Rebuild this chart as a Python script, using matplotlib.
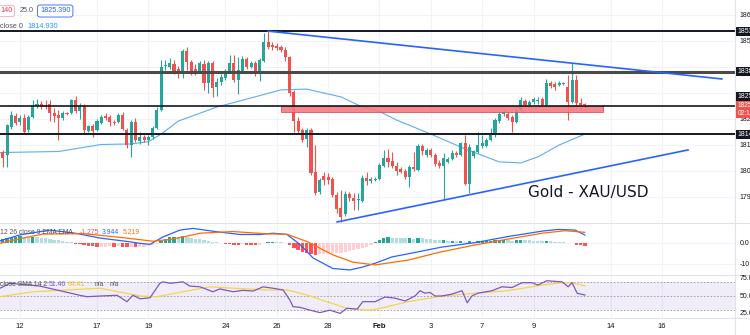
import matplotlib
matplotlib.use("Agg")
import matplotlib.pyplot as plt
import matplotlib.transforms as mtransforms
from matplotlib.patches import Rectangle

plt.rcParams['font.family'] = ['Liberation Sans', 'DejaVu Sans']

# 4h candles, XAU/USD, 11 Jan - 11 Feb 2022
opens = [1807.3, 1806.2, 1816.9, 1821.2, 1818.8, 1820.4, 1815.8, 1820.8, 1825.0, 1825.8,
         1825.4, 1825.8, 1822.3, 1821.5, 1820.4, 1822.3, 1822.3, 1827.3, 1823.1, 1825.0,
         1815.4, 1817.3, 1815.8, 1818.5, 1821.2, 1820.8, 1818.8, 1818.8, 1821.5, 1815.8,
         1810.0, 1818.8, 1811.5, 1813.1, 1811.9, 1813.1, 1816.5, 1823.5, 1840.4, 1840.0,
         1841.2, 1839.2, 1838.1, 1846.2, 1841.9, 1839.2, 1838.1, 1841.2, 1833.8, 1841.5,
         1832.3, 1834.2, 1835.8, 1838.1, 1841.5, 1835.0, 1838.1, 1843.1, 1840.0, 1841.5,
         1837.7, 1842.3, 1849.6, 1848.5, 1848.1, 1847.7, 1846.5, 1843.8, 1830.4, 1819.2,
         1815.8, 1812.3, 1815.8, 1799.6, 1791.9, 1798.1, 1797.7, 1796.9, 1790.8, 1785.8,
         1783.5, 1791.2, 1789.6, 1788.8, 1788.5, 1797.3, 1796.2, 1796.5, 1796.9, 1801.9,
         1805.0, 1803.8, 1801.9, 1800.8, 1800.0, 1797.7, 1801.5, 1800.4, 1809.6, 1806.2,
         1808.1, 1806.2, 1803.1, 1801.9, 1803.5, 1804.6, 1806.9, 1806.2, 1810.8, 1795.0,
         1805.8, 1807.3, 1809.6, 1809.6, 1811.9, 1813.8, 1819.2, 1821.9, 1821.9, 1820.8,
         1818.8, 1823.5, 1826.9, 1825.4, 1826.5, 1826.9, 1827.7, 1825.4, 1833.8, 1833.5,
         1833.1, 1833.5, 1832.3, 1826.5, 1835.0, 1826.2, 1825.4]
highs = [1808.1, 1818.1, 1823.1, 1822.3, 1821.5, 1821.9, 1821.5, 1827.3, 1827.7, 1826.9,
         1827.3, 1827.3, 1824.2, 1823.5, 1823.1, 1822.7, 1827.7, 1828.8, 1826.2, 1825.8,
         1817.7, 1818.1, 1820.0, 1821.5, 1822.3, 1821.5, 1819.6, 1822.3, 1822.7, 1816.5,
         1819.6, 1820.4, 1815.0, 1813.8, 1813.8, 1817.3, 1824.6, 1842.7, 1842.7, 1843.5,
         1842.7, 1840.4, 1846.9, 1847.7, 1842.7, 1841.2, 1842.3, 1842.7, 1842.3, 1842.3,
         1835.8, 1837.3, 1839.2, 1844.6, 1844.6, 1843.8, 1844.2, 1843.8, 1842.3, 1842.3,
         1843.5, 1853.1, 1853.8, 1849.6, 1849.2, 1848.5, 1847.7, 1844.2, 1831.2, 1820.8,
         1816.5, 1816.5, 1816.5, 1810.0, 1797.3, 1799.6, 1799.2, 1797.7, 1791.9, 1792.7,
         1792.3, 1791.9, 1791.5, 1791.5, 1798.5, 1799.6, 1797.7, 1797.7, 1803.1, 1808.1,
         1808.5, 1807.3, 1803.5, 1801.5, 1800.8, 1802.3, 1807.3, 1810.4, 1810.4, 1808.8,
         1808.8, 1806.9, 1804.2, 1806.9, 1805.4, 1808.1, 1807.7, 1811.2, 1813.8, 1810.4,
         1808.1, 1815.0, 1813.8, 1812.7, 1816.5, 1820.4, 1822.7, 1823.5, 1822.7, 1821.5,
         1824.2, 1828.5, 1827.7, 1827.3, 1828.5, 1828.5, 1828.5, 1835.4, 1834.6, 1834.2,
         1834.6, 1834.2, 1836.9, 1841.5, 1836.9, 1828.1, 1826.2]
lows = [1801.5, 1801.5, 1816.2, 1817.7, 1817.7, 1814.6, 1815.0, 1820.4, 1824.2, 1823.8,
        1823.8, 1819.2, 1818.8, 1811.9, 1819.6, 1821.5, 1821.9, 1822.3, 1820.0, 1814.6,
        1815.0, 1813.1, 1815.4, 1818.1, 1819.6, 1817.3, 1817.7, 1818.5, 1815.8, 1808.8,
        1805.4, 1811.2, 1810.4, 1811.2, 1810.0, 1812.3, 1816.2, 1823.1, 1838.8, 1839.2,
        1837.3, 1835.8, 1835.8, 1838.8, 1836.9, 1836.9, 1837.7, 1831.2, 1830.0, 1828.5,
        1828.8, 1833.1, 1835.0, 1837.7, 1834.2, 1829.6, 1837.7, 1839.2, 1839.6, 1836.5,
        1834.6, 1841.9, 1846.9, 1846.5, 1846.5, 1845.8, 1842.3, 1828.8, 1815.0, 1814.6,
        1811.2, 1809.2, 1798.5, 1790.8, 1791.2, 1794.6, 1795.0, 1790.0, 1783.9, 1780.4,
        1782.7, 1788.5, 1785.0, 1785.0, 1788.1, 1794.6, 1795.4, 1796.2, 1796.5, 1801.5,
        1801.5, 1801.2, 1798.5, 1799.2, 1796.9, 1793.8, 1800.0, 1800.0, 1806.2, 1805.4,
        1805.4, 1801.9, 1801.2, 1788.8, 1803.1, 1804.2, 1805.4, 1805.8, 1794.6, 1791.5,
        1805.0, 1806.9, 1808.8, 1809.2, 1811.5, 1813.1, 1818.5, 1821.2, 1819.6, 1815.0,
        1818.5, 1823.1, 1824.6, 1824.6, 1825.8, 1825.8, 1824.6, 1825.0, 1831.9, 1831.2,
        1832.7, 1833.1, 1819.6, 1826.2, 1824.6, 1823.5, 1824.2]
closes = [1805.0, 1817.7, 1821.5, 1818.5, 1820.4, 1815.0, 1820.8, 1825.4, 1825.8, 1824.6,
          1824.6, 1822.3, 1821.2, 1820.4, 1822.3, 1821.9, 1827.3, 1823.1, 1825.0, 1815.8,
          1817.3, 1815.4, 1819.2, 1820.8, 1820.4, 1818.8, 1818.3, 1821.5, 1816.2, 1810.0,
          1818.8, 1811.9, 1813.1, 1811.9, 1813.1, 1816.5, 1823.5, 1840.0, 1840.8, 1841.5,
          1838.5, 1838.1, 1846.2, 1841.9, 1838.1, 1838.1, 1841.5, 1833.8, 1841.5, 1831.9,
          1834.2, 1836.2, 1838.5, 1841.5, 1835.0, 1838.8, 1843.1, 1840.0, 1841.5, 1837.7,
          1842.7, 1849.6, 1847.7, 1847.7, 1847.5, 1846.5, 1843.8, 1830.0, 1819.2, 1815.4,
          1811.9, 1815.8, 1799.2, 1791.5, 1796.5, 1796.5, 1796.5, 1790.8, 1785.4, 1782.3,
          1791.2, 1789.6, 1788.5, 1789.2, 1797.3, 1796.2, 1796.9, 1796.9, 1802.3, 1805.0,
          1803.5, 1801.9, 1800.0, 1799.6, 1797.7, 1801.5, 1800.8, 1809.6, 1807.7, 1808.1,
          1806.2, 1802.7, 1801.9, 1805.0, 1804.6, 1806.9, 1806.2, 1810.8, 1795.0, 1809.2,
          1807.7, 1810.0, 1810.8, 1811.9, 1813.8, 1819.6, 1821.9, 1822.7, 1820.4, 1818.8,
          1823.5, 1827.3, 1825.4, 1826.5, 1827.7, 1827.3, 1825.4, 1833.8, 1832.7, 1832.3,
          1833.8, 1833.8, 1826.5, 1835.0, 1826.2, 1825.4, 1825.39]

# moving average ("close 0"): bar index, price
ma_idx = [-0.65, 13, 23, 30, 34, 37, 41, 50, 58, 65, 71, 79, 84, 88, 92, 100, 108,
          116, 121, 125, 130, 136]
ma_val = [1807.1, 1807.5, 1810.2, 1810.4, 1811.3, 1814.2, 1819.2, 1824.6, 1828.1,
          1831.2, 1831.5, 1828.5, 1824.6, 1822.9, 1819.6, 1814.2, 1808.5, 1803.5,
          1803.1, 1805.4, 1810.0, 1814.2]

levels = [1853.8, 1838.1, 1825.0, 1814.2]
zone = [1822.7, 1825.0]
zone_idx = [65.0, 140.2]
trend_down = [(62, 1853.8), (168.0, 1835.4)]
trend_up = [(78.1, 1780.4), (160.1, 1808.1)]

# MACD 12 26 9
hist = [2.0, 2.6, 3.0, 3.2, 3.3, 3.1, 2.9, 3.0, 2.8, 2.6, 2.3, 2.0, 1.7, 1.4, 1.1, 0.8,
        0.4, -0.2, -0.5, -0.9, -1.2, -1.4, -1.6, -1.6, -1.6, -1.5, -1.6, -1.5, -1.6, -1.9,
        -1.7, -1.9, -1.8, -1.7, -1.5, -1.0, -0.3, 1.3, 2.2, 2.9, 3.1, 3.0, 3.3, 3.0, 2.6,
        2.2, 1.9, 1.4, 1.3, 0.8, 0.5, 0.2, -0.2, -0.3, -0.6, -0.7, -0.5, -0.6, -0.7, -0.8,
        -0.6, 0.3, 0.7, 0.7, 0.6, 0.4, 0.1, -1.0, -2.4, -3.4, -4.2, -4.4, -5.1, -5.6, -5.3,
        -5.0, -4.8, -4.7, -4.6, -4.5, -4.0, -3.6, -3.2, -2.8, -2.2, -1.6, -0.6, 0.6, 1.6,
        2.4, 2.8, 2.7, 2.6, 2.5, 2.3, 2.4, 2.2, 2.5, 2.3, 2.1, 2.0, 1.7, 1.4, 1.5, 1.3,
        1.3, 1.1, 1.2, 0.6, 0.9, 0.7, 0.9, 0.9, 1.0, 1.1, 1.4, 1.6, 1.8, 1.6, 1.3, 1.4,
        1.7, 1.5, 1.4, 1.3, 1.1, 0.9, 1.2, 1.0, 0.8, 0.6, 0.4, 0.2, 0.1, -0.6, -1.0, -1.275]
macd_idx = [-0.65, 4.0, 11.0, 16.9, 22.7, 28.6, 32.1, 34.4, 37.4, 41.4, 44.4, 50.0,
            55.4, 60.1, 63.1, 66.4, 69.4, 72.5, 77.1, 81.1, 84.1, 87.0, 90.9, 94.7,
            102.6, 110.3, 118.0, 126.0, 129.7, 133.7, 136.0]
macd_val = [1.2, 4.0, 6.3, 4.8, 2.5, 1.0, 0.0, -0.5, 3.0, 6.3, 7.1, 5.5, 4.2, 4.2, 4.8,
            4.2, -0.5, -7.0, -12.0, -12.7, -11.3, -9.5, -6.5, -5.0, -1.8, 0.3, 3.2, 5.8,
            6.6, 6.3, 3.944]
signal_idx = [-0.65, 4.0, 9.4, 18.7, 26.7, 35.1, 39.8, 46.1, 53.8, 61.7, 66.4, 71.1,
              77.1, 81.8, 87.0, 94.7, 102.6, 110.3, 118.0, 126.0, 131.4, 136.0]
signal_val = [0.0, 2.2, 4.4, 4.6, 3.0, 1.0, 2.0, 4.8, 5.6, 4.5, 4.3, 0.8, -5.5, -9.0,
              -10.3, -8.0, -4.0, -0.8, 2.0, 4.8, 6.0, 5.219]

# RSI 14 with SMA
rsi_idx = [-0.65, 1.7, 8.7, 18.0, 19.7, 22.7, 26.7, 29.0, 30.4, 32.1, 34.4, 36.7, 37.4,
           39.1, 42.1, 43.7, 46.1, 49.1, 50.7, 53.8, 56.1, 58.5, 60.8, 63.1, 65.5, 67.1,
           67.8, 69.4, 71.8, 74.1, 76.4, 78.8, 80.4, 82.8, 84.1, 87.0, 89.3, 91.6, 94.0,
           96.3, 97.5, 98.6, 99.8, 101.0, 102.6, 105.0, 107.3, 108.5, 109.6, 111.0,
           114.3, 116.6, 119.0, 121.3, 123.6, 125.0, 127.1, 130.7, 132.1, 133.0, 134.2,
           136.0]
rsi_val = [61, 68, 64, 51, 49, 50, 51, 42, 51, 46, 47.5, 68, 70, 68, 70, 64, 63, 56, 60,
           56, 58, 57, 63, 61, 58.5, 44, 35, 34, 30, 26.5, 30, 25.5, 32.6, 31.5, 42, 42,
           48.6, 47, 43, 50, 57.5, 54, 55, 50, 50, 52.8, 57.5, 40.5, 50, 54, 57.5, 63, 62,
           68.8, 68.8, 65.5, 71.6, 70, 63, 68.8, 53.8, 51.46]
rsi_sma_idx = [-0.65, 7.1, 22.7, 32.1, 36.0, 42.1, 48.4, 53.8, 61.7, 66.4, 71.1, 75.7,
               80.4, 85.1, 87.0, 94.7, 102.6, 110.3, 118.0, 126.0, 130.7, 133.0, 136.0]
rsi_sma_val = [49, 56, 61, 50, 49, 56, 63, 61, 58.5, 58.5, 51.4, 42, 32.6, 30, 31, 42,
               50, 53.8, 57.5, 65.5, 68.8, 68.5, 64.41]

date_labels = ['12', '17', '19', '24', '26', '28', 'Feb', '3', '7', '9', '14', '16']
date_idx = [4, 22, 34, 52, 64, 76, 88, 100, 112, 124, 142, 154]
price_ticks = [1860, 1850, 1840, 1830, 1820, 1810, 1800, 1790]
box_prices = [1853.8, 1838.1, 1828.5, 1814.2]
box_texts = ['1853.800', '1838.100', '1825.000', '1814.200']

UP, DOWN = '#26a69a', '#ef5350'
GRID = '#f0f3fa'
W, H = 750, 335


def fx(px):
    return px / W


def fy(py):
    return 1 - py / H


fig = plt.figure(figsize=(7.5, 3.35), dpi=100)
main = fig.add_axes([0, fy(223), fx(735), 223 / H])
macd = fig.add_axes([0, fy(275), fx(735), 52 / H])
rsi = fig.add_axes([0, fy(318), fx(735), 43 / H])

xlim = (-0.654, 171.07)
for ax in (main, macd, rsi):
    ax.set_xlim(*xlim)
    ax.set_xticks([])
    ax.set_yticks([])
    for s in ax.spines.values():
        s.set_visible(False)
    for d in date_idx:
        ax.axvline(d, color=GRID, lw=0.8, zorder=0)

main.set_ylim(1780.0, 1865.77)
macd.set_ylim(-15.1, 9.67)
rsi.set_ylim(18.9, 79.7)

# --- price pane ---
for p in price_ticks:
    main.axhline(p, color=GRID, lw=0.8, zorder=0)

x = list(range(len(opens)))
cols = [UP if c >= o else DOWN for o, c in zip(opens, closes)]
main.vlines(x, lows, highs, colors=cols, lw=0.8, zorder=3)
bodies = [max(abs(c - o), 0.35) for o, c in zip(opens, closes)]
bottoms = [min(o, c) for o, c in zip(opens, closes)]
main.bar(x, bodies, bottom=bottoms, width=0.72, color=cols, lw=0, zorder=4)

main.plot(ma_idx, ma_val, color='#5aaef2', lw=0.8, zorder=2)

main.add_patch(Rectangle((zone_idx[0], zone[0]), zone_idx[1] - zone_idx[0],
                         zone[1] - zone[0], facecolor='#f87a7e', edgecolor='#d9474c',
                         lw=0.6, alpha=0.9, zorder=5))
lw_lv = [1.4, 2.2, 1.2, 1.4]
col_lv = ['#131722', '#4a4a4a', '#131722', '#131722']
for lv, lw_, c in zip(levels, lw_lv, col_lv):
    main.axhline(lv, color=c, lw=lw_, zorder=6)

for seg in (trend_down, trend_up):
    main.plot([seg[0][0], seg[1][0]], [seg[0][1], seg[1][1]], color='#2962ff',
              lw=1.2, zorder=7)

main.text(fx(528) / fx(735), 1 - 192 / 223, 'Gold - XAU/USD', transform=main.transAxes,
          fontsize=11, color='#131722', va='center', ha='left',
          family=['DejaVu Sans'])

# --- MACD pane ---
hcols = []
for i, v in enumerate(hist):
    prev = hist[i - 1] if i > 0 else v
    if v >= 0:
        hcols.append('#26a69a' if v >= prev else '#b2dfdb')
    else:
        hcols.append('#ff5252' if v < prev else '#ffcdd2')
macd.axhline(0, color=GRID, lw=0.8, zorder=0)
macd.axhline(-10, color=GRID, lw=0.8, zorder=0)
macd.bar(range(len(hist)), hist, width=0.78, color=hcols, lw=0, zorder=2)
macd.plot(macd_idx, macd_val, color='#2962ff', lw=0.9, zorder=3)
macd.plot(signal_idx, signal_val, color='#ff6d00', lw=0.9, zorder=3)

# --- RSI pane ---
rsi.axhspan(30, 70, color='#7e57c2', alpha=0.1, lw=0, zorder=0)
for lv in (70, 50, 30):
    rsi.axhline(lv, color='#9598a1', lw=0.6, ls=(0, (2, 2)), zorder=1)
rsi.plot(rsi_sma_idx, rsi_sma_val, color='#f5d547', lw=0.9, zorder=2)
rsi.plot(rsi_idx, rsi_val, color='#7e57c2', lw=0.9, zorder=3)

# pane separators and price scale border
for py in (223, 275, 318):
    fig.add_artist(plt.Line2D([0, 1], [fy(py), fy(py)], color='#e0e3eb', lw=0.8))
fig.add_artist(plt.Line2D([fx(735), fx(735)], [0, 1], color='#e0e3eb', lw=0.8))

# date axis
tdate = mtransforms.blended_transform_factory(rsi.transData, fig.transFigure)
for lab, d in zip(date_labels, date_idx):
    fig.text(d, fy(327), lab, transform=tdate, ha='center', va='center', fontsize=5.5,
             color='#131722', fontweight='bold' if lab == 'Feb' else 'normal')

# price scale labels (cut off by the image edge, as in the screenshot)
tp = mtransforms.blended_transform_factory(fig.transFigure, main.transData)
for p in price_ticks:
    # skip the tick label that sits under a marker box
    if min(abs(p - b) for b in box_prices) < 2.0:
        continue
    fig.text(fx(739), p, f'{p}.000', transform=tp, va='center', fontsize=5,
             color='#131722')
for p, t in zip(box_prices, box_texts):
    fig.text(fx(737.5), p, t, transform=tp, va='center', fontsize=5, color='white',
             bbox=dict(boxstyle='square,pad=0.15', fc='#131722', ec='none'), zorder=10)
fig.text(fx(737.5), 1823.7, '1825.390\n02:12:44', transform=tp, va='center',
         fontsize=4.8, color='white', linespacing=1.15,
         bbox=dict(boxstyle='square,pad=0.18', fc='#ef5350', ec='none'), zorder=10)

tm = mtransforms.blended_transform_factory(fig.transFigure, macd.transData)
fig.text(fx(740), 0, '0.0', transform=tm, va='center', fontsize=5, color='#131722')
fig.text(fx(740), -10, '-10', transform=tm, va='center', fontsize=5, color='#131722')
tr = mtransforms.blended_transform_factory(fig.transFigure, rsi.transData)
for v in (75, 50, 25):
    fig.text(fx(740), v, f'{v}.00', transform=tr, va='center', fontsize=5,
             color='#131722')

# legends
fig.text(fx(0), fy(11), '140', fontsize=5.2, color='#f23645', va='center',
         bbox=dict(boxstyle='round,pad=0.3', fc='white', ec='#f7a8ad', lw=0.6))
fig.text(fx(20), fy(11), '25.0', fontsize=5.2, color='#50535e', va='center')
fig.text(fx(40), fy(11), '1825.390', fontsize=5.2, color='#2962ff', va='center',
         bbox=dict(boxstyle='round,pad=0.35', fc='white', ec='#2962ff', lw=0.6))
fig.text(fx(0), fy(27), 'close 0', fontsize=5.2, color='#50535e', va='center')
fig.text(fx(27), fy(27), '1814.930', fontsize=5.2, color='#2196f3', va='center')

fig.text(fx(0), fy(232), '12 26 close 9 EMA EMA', fontsize=4.9, color='#50535e',
         va='center')
fig.text(fx(80), fy(232), '-1.275', fontsize=4.9, color='#ff5252', va='center')
fig.text(fx(102), fy(232), '3.944', fontsize=4.9, color='#2962ff', va='center')
fig.text(fx(123), fy(232), '5.219', fontsize=4.9, color='#ff6d00', va='center')

fig.text(fx(0), fy(285), 'close SMA 14 2', fontsize=4.9, color='#50535e', va='center')
fig.text(fx(49), fy(285), '51.46', fontsize=4.9, color='#7e57c2', va='center')
fig.text(fx(68), fy(285), '64.41', fontsize=4.9, color='#f7c600', va='center')
fig.text(fx(95), fy(285), 'n/a', fontsize=4.9, color='#50535e', va='center')
fig.text(fx(110), fy(285), 'n/a', fontsize=4.9, color='#50535e', va='center')

fig.savefig('out.png', dpi=100)
